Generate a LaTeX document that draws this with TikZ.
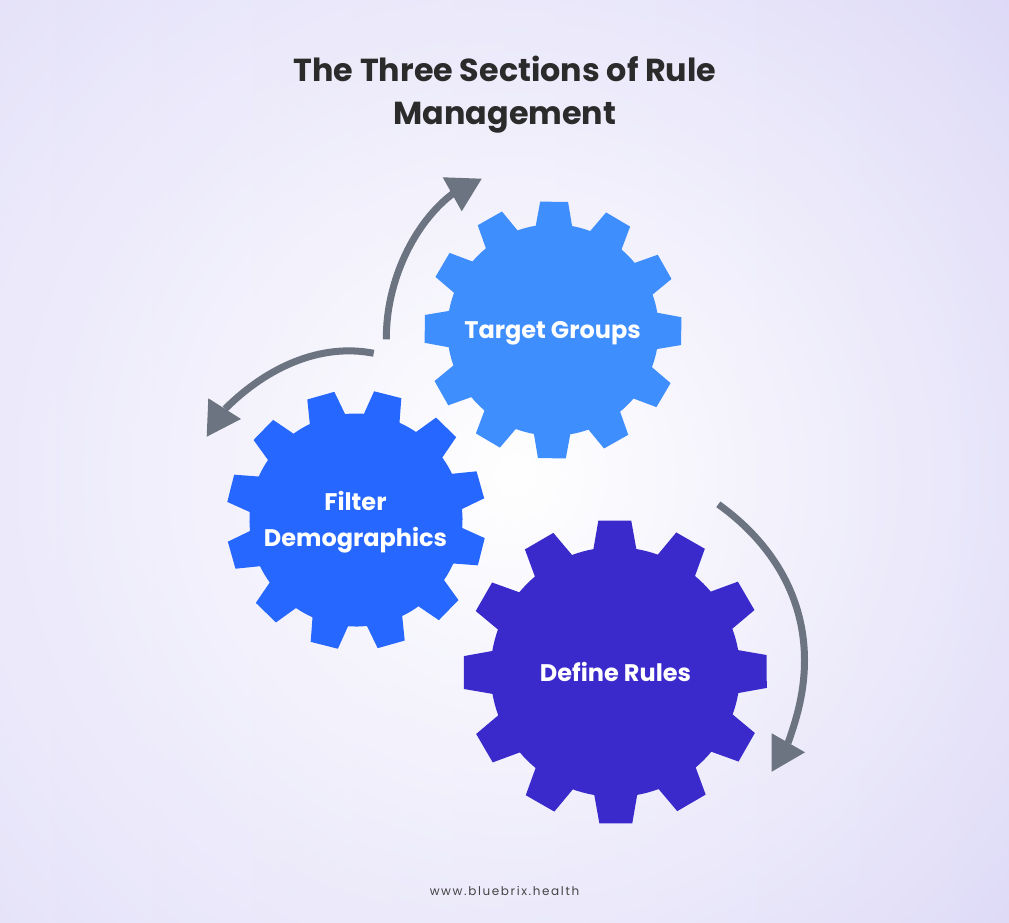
\documentclass[tikz,border=0pt]{standalone}
\usepackage{fontspec}
\setmainfont{Poppins}
\usetikzlibrary{fadings}
\definecolor{bgL}{HTML}{E4E1F9}
\definecolor{bgR}{HTML}{DBD7F7}
\definecolor{cTarget}{HTML}{3F8EFD}
\definecolor{cFilter}{HTML}{2667FF}
\definecolor{cDefine}{HTML}{3A2ACB}
\definecolor{cArrow}{HTML}{6B7480}
\definecolor{cTitle}{HTML}{2B2B2B}
\definecolor{cFoot}{HTML}{444444}
\tikzfading[name=glow, inner color=transparent!0, outer color=transparent!100]
\tikzset{
  shaft/.style={draw=cArrow, line width=7pt, line cap=butt},
  head/.style={fill=cArrow},
  gearlabel/.style={text=white, font=\fontsize{24}{36}\selectfont\bfseries, align=center, inner sep=0pt},
}
% \gearshape{centre x}{centre y}{outer radius}{rotation}{colour}
\newcommand{\gearshape}[5]{%
  \pgfmathsetmacro{\rr}{#3*0.8194}%
  \fill[#5] ({#1+\rr*cos(#4-9.9)},{#2-\rr*sin(#4-9.9)})
  \foreach \i in {0,...,11} {
    \pgfextra{\pgfmathsetmacro{\aa}{#4+30*\i}}
    -- ({#1+#3*cos(\aa-6.2)},{#2-#3*sin(\aa-6.2)})
    -- ({#1+#3*cos(\aa+6.2)},{#2-#3*sin(\aa+6.2)})
    -- ({#1+\rr*cos(\aa+9.9)},{#2-\rr*sin(\aa+9.9)})
    arc[start angle={-(\aa+9.9)}, end angle={-(\aa+30-9.9)}, radius=\rr]
  } -- cycle;%
}
\begin{document}
\begin{tikzpicture}[x=1pt,y=1pt]
\useasboundingbox (0,0) rectangle (1009,-922);
\fill[left color=bgL, right color=bgR] (0,0) rectangle (1009,-922);
\begin{scope}
  \clip (0,0) rectangle (1009,-922);
  \fill[white, path fading=glow] (515,-475) circle[radius=740];
\end{scope}

\gearshape{553}{-330}{129}{0.5}{cTarget}
\gearshape{356}{-520}{130}{14.2}{cFilter}
\gearshape{615.3}{-672}{152.3}{-0.2}{cDefine}

\node[text=cTitle, font=\fontsize{31.8}{43}\selectfont\bfseries, align=center, inner sep=0pt] (title) at (505,-95) {The Three Sections of Rule\\Management};
\node[gearlabel] (target) at (552.5,-333) {Target Groups};
\node[gearlabel] (filter) at (355.5,-522) {Filter\\Demographics};
\node[gearlabel] (define) at (615.5,-672) {Define Rules};
\node[text=cFoot, font=\fontsize{12}{14}\selectfont, inner sep=0pt] (foot) at (504.5,-891) {\addfontfeatures{LetterSpace=13.5}www.bluebrix.health};

\coordinate (a1s) at (386.3,-339.3);
\coordinate (a1e) at (453,-193.5);
\coordinate (a1x) at (442.7,-177.3);
\coordinate (a1y) at (481.7,-178.7);
\coordinate (a1z) at (461.7,-211.3);
\draw[shaft] (a1s) .. controls (386,-280) and (415,-222) .. (a1e);
\fill[head] (a1x) -- (a1y) -- (a1z) -- cycle;

\coordinate (a2s) at (373.7,-353.3);
\coordinate (a2e) at (225,-409);
\coordinate (a2x) at (208.3,-398.3);
\coordinate (a2y) at (206.7,-436.7);
\coordinate (a2z) at (241,-419);
\draw[shaft] (a2s) .. controls (322,-343) and (268,-366) .. (a2e);
\fill[head] (a2x) -- (a2y) -- (a2z) -- cycle;

\coordinate (a3s) at (718.3,-504.3);
\coordinate (a3m) at (804.5,-660);
\coordinate (a3e) at (788,-743);
\coordinate (a3x) at (771.7,-733.3);
\coordinate (a3y) at (771.7,-771.7);
\coordinate (a3z) at (805,-752.3);
\draw[shaft] (a3s) .. controls (775,-545) and (804.5,-600) .. (a3m) .. controls (804.5,-690) and (798,-715) .. (a3e);
\fill[head] (a3x) -- (a3y) -- (a3z) -- cycle;
\end{tikzpicture}
\end{document}
